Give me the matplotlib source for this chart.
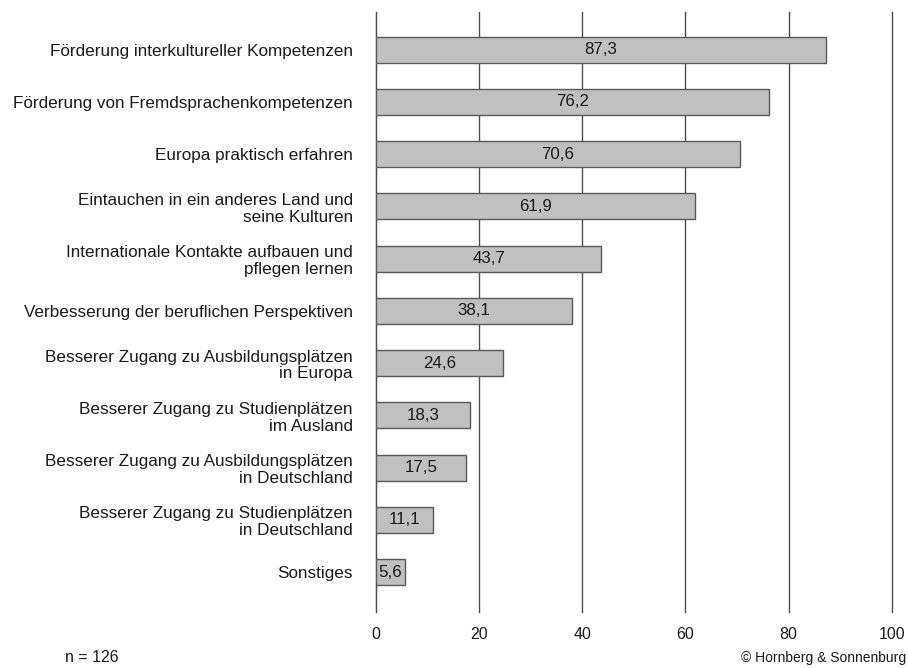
import matplotlib.pyplot as plt

plt.rcParams['font.family'] = ['Liberation Sans', 'DejaVu Sans']

categories = [
    "Förderung interkultureller Kompetenzen",
    "Förderung von Fremdsprachenkompetenzen",
    "Europa praktisch erfahren",
    "Eintauchen in ein anderes Land und\nseine Kulturen",
    "Internationale Kontakte aufbauen und\npflegen lernen",
    "Verbesserung der beruflichen Perspektiven",
    "Besserer Zugang zu Ausbildungsplätzen\nin Europa",
    "Besserer Zugang zu Studienplätzen\nim Ausland",
    "Besserer Zugang zu Ausbildungsplätzen\nin Deutschland",
    "Besserer Zugang zu Studienplätzen\nin Deutschland",
    "Sonstiges",
]
values = [87.3, 76.2, 70.6, 61.9, 43.7, 38.1, 24.6, 18.3, 17.5, 11.1, 5.6]
xticks = [0, 20, 40, 60, 80, 100]

fig = plt.figure(figsize=(9.08, 6.68), dpi=100)
ax = fig.add_axes([0.414, 0.084, 0.568, 0.898])

pos = list(range(len(categories)))
ax.barh(pos, values, height=0.5, color='#c0c0c0', edgecolor='#595959',
        linewidth=1, zorder=3)
for p, v in zip(pos, values):
    ax.text(v / 2, p, f"{v:.1f}".replace('.', ','), ha='center', va='center',
            fontsize=12.2, color='#1a1a1a', zorder=4)

ax.set_xlim(0, 100)
ax.set_ylim(10.76, -0.72)
ax.set_xticks(xticks)
ax.set_xticklabels([str(t) for t in xticks], fontsize=11.5, color='#1a1a1a')
ax.set_yticks(pos)
ax.set_yticklabels(categories, fontsize=12.3, color='#1a1a1a',
                   linespacing=1.15)
ax.tick_params(axis='both', length=0)
ax.tick_params(axis='y', pad=16.5)
ax.tick_params(axis='x', pad=11)

ax.grid(axis='x', color='#4d4d4d', linewidth=1, zorder=0)
for gl in ax.get_xgridlines():
    gl.set_clip_on(False)
for s in ['top', 'right', 'bottom']:
    ax.spines[s].set_visible(False)
ax.spines['left'].set_color('#4d4d4d')

fig.text(0.072, 0.009, "n = 126", fontsize=11.5, color='#1a1a1a')
fig.text(0.998, 0.009, "© Hornberg & Sonnenburg", fontsize=10, ha='right',
         color='#1a1a1a')

plt.savefig("out.png", dpi=100)
